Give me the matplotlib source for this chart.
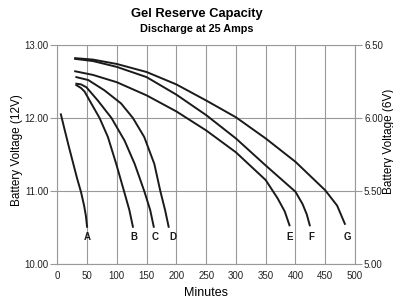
import matplotlib.pyplot as plt

# minutes / volts
a_min = [6, 12, 19, 26, 33, 40, 45, 48, 50]
a_v = [12.05, 11.85, 11.62, 11.40, 11.18, 10.98, 10.80, 10.66, 10.51]

b_min = [32, 40, 46, 57, 71, 85, 99, 112, 121, 127]
b_v = [12.45, 12.41, 12.36, 12.20, 12.00, 11.74, 11.37, 11.00, 10.74, 10.51]

c_min = [32, 40, 49, 68, 91, 113, 130, 146, 156, 162]
c_v = [12.47, 12.46, 12.42, 12.24, 12.00, 11.69, 11.37, 11.00, 10.74, 10.51]

d_min = [32, 52, 79, 107, 127, 146, 163, 173, 181, 187]
d_v = [12.56, 12.52, 12.38, 12.20, 12.00, 11.74, 11.37, 11.00, 10.74, 10.51]

e_min = [30, 60, 100, 150, 200, 250, 300, 350, 370, 382, 390]
e_v = [12.64, 12.59, 12.49, 12.31, 12.09, 11.83, 11.53, 11.15, 10.90, 10.72, 10.53]

f_min = [30, 60, 100, 150, 200, 250, 300, 350, 400, 412, 419, 424]
f_v = [12.81, 12.78, 12.70, 12.56, 12.32, 12.04, 11.72, 11.35, 10.99, 10.82, 10.68, 10.53]

g_min = [30, 60, 100, 150, 200, 250, 300, 350, 400, 450, 470, 483]
g_v = [12.82, 12.80, 12.74, 12.63, 12.46, 12.24, 12.01, 11.72, 11.40, 11.01, 10.80, 10.55]

curves = [(a_min, a_v, 'A'), (b_min, b_v, 'B'), (c_min, c_v, 'C'), (d_min, d_v, 'D'),
          (e_min, e_v, 'E'), (f_min, f_v, 'F'), (g_min, g_v, 'G')]
label_x = [51, 128, 164, 194, 391, 427, 487]
label_v = 10.37

x_ticks = list(range(0, 501, 50))
y_ticks = [10, 11, 12, 13]
y6_ticks = [5.0, 5.5, 6.0, 6.5]

grey = '#999999'
font = 'Liberation Sans'

fig = plt.figure(figsize=(3.93, 3.01), dpi=100)
ax = fig.add_axes([0.1458, 0.1229, 0.7575, 0.7276])

for (m, v, name), lx in zip(curves, label_x):
    ax.plot(m, v, color='#1a1a1a', lw=1.4, solid_joinstyle='round')
    ax.text(lx, label_v, name, ha='center', va='center', fontsize=7,
            fontweight='bold', family=font, color='#1a1a1a')

ax.set_xlim(0, 500)
ax.set_ylim(10, 13)
ax.set_xticks(x_ticks)
ax.set_yticks(y_ticks)
ax.set_yticklabels(['%.2f' % t for t in y_ticks])
ax.grid(True, color=grey, lw=0.8)
ax.set_axisbelow(True)
for s in ax.spines.values():
    s.set_color(grey)
    s.set_linewidth(0.8)
ax.tick_params(axis='x', length=0, pad=5, labelsize=7, labelcolor='#222222')
ax.tick_params(axis='y', length=5, width=0.8, color=grey, pad=1.5, labelsize=7,
               labelcolor='#222222')
for lab in ax.get_xticklabels() + ax.get_yticklabels():
    lab.set_family(font)

ax2 = ax.twinx()
ax2.set_ylim(5, 6.5)
ax2.set_yticks(y6_ticks)
ax2.set_yticklabels(['%.2f' % t for t in y6_ticks])
ax2.tick_params(axis='y', length=5, width=0.8, color=grey, pad=1.5, labelsize=7,
                labelcolor='#222222')
for s in ax2.spines.values():
    s.set_visible(False)
for lab in ax2.get_yticklabels():
    lab.set_family(font)

ax.set_xlabel('Minutes', fontsize=9, family=font, labelpad=4)
fig.text(0.043, 0.50, 'Battery Voltage (12V)', rotation=90, ha='center', va='center',
         fontsize=8.5, family=font)
fig.text(0.975, 0.53, 'Battery Voltage (6V)', rotation=90, ha='left', va='center',
         fontsize=8.5, family=font)

fig.text(0.5, 0.953, 'Gel Reserve Capacity', ha='center', va='center', fontsize=9.3,
         fontweight='bold', family=font)
fig.text(0.5, 0.905, 'Discharge at 25 Amps', ha='center', va='center', fontsize=7.8,
         fontweight='bold', family=font)

plt.savefig('out.png', dpi=100)
